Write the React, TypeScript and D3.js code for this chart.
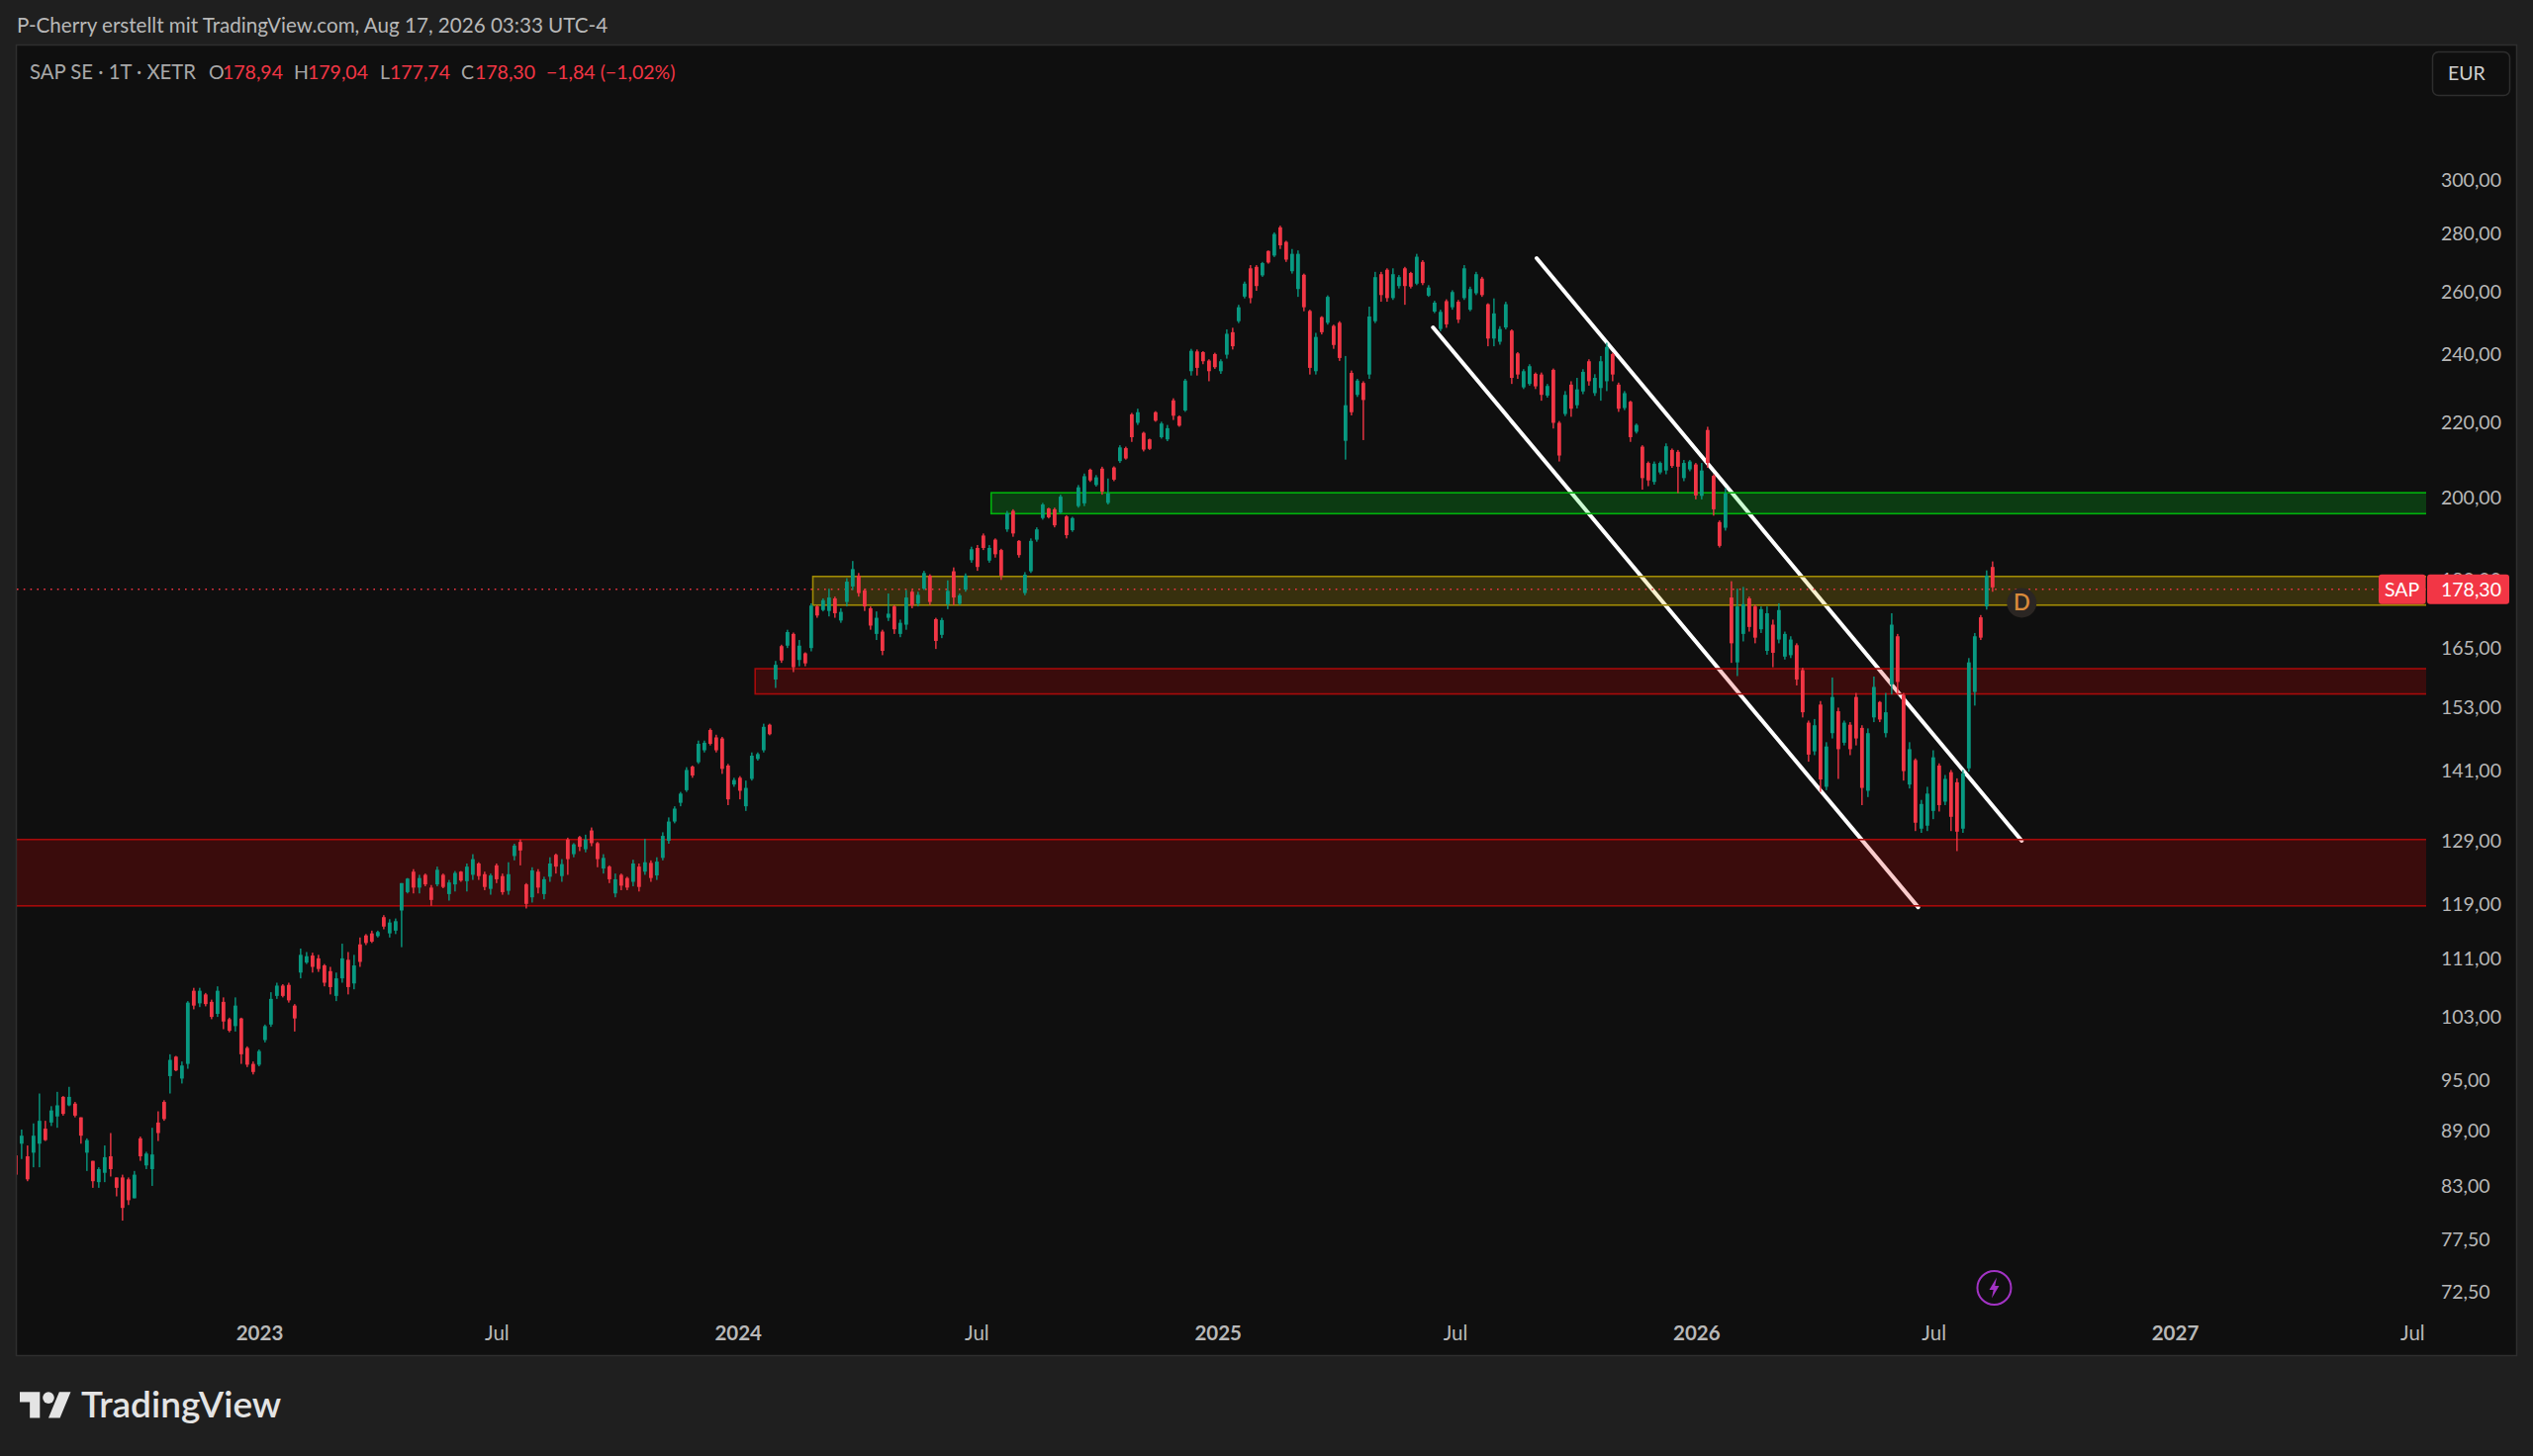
import { useEffect, useRef } from "react";
import * as d3 from "d3";

// one candle per ~4.5 calendar days
const firstBar = Date.UTC(2022, 5, 30);
const barStepHours = 108.67;

const opens = [
  86.3,87.6,86.2,86.6,87.6,89.3,90,90.7,93,92,
  92.2,90.6,86.6,85.7,83.4,84.4,86.2,83.9,83.9,83.7,
  81.7,88.2,85.2,84.8,90,92.4,95.5,97.9,95.2,97,
  106.5,104.8,106,105,103.4,105,102.7,101.8,102.8,99,
  97,96.9,100,102,105.8,107.2,107.3,104.5,109,110.4,
  111.4,111,110,109.2,105.8,108.2,110.8,107.5,113,114.3,
  114.6,114.2,117,114.6,115,118,120.8,124,121.5,123.5,
  121.5,122,123.5,120.5,122,124,122.5,123.5,125.3,123.6,
  121.3,125,123.3,121,126.5,128.8,122,120,124,120.5,
  123.2,126.7,123.3,129.2,126.8,129.6,127.6,130.7,128.6,124.5,
  124.8,120.6,123.5,123,122.4,124.8,124,125.4,123.4,126.2,
  129,132.2,135.4,137.6,141.8,142.6,144.8,148.6,147.2,147,
  142,138.6,139.8,134.8,139.6,143.2,144.8,149.6,158.5,165.4,
  165.5,168,162.5,163.9,165,174,173.2,173,175.8,170.9,
  175,178.5,181,177.6,173.6,168,168.5,171.5,174,168,
  170,177.3,174.6,178,181,171.2,167.8,174.5,182,174.6,
  177.8,184.6,187.5,190.5,184.5,189.5,187,192,196.6,189.2,
  177,182,189.5,194.8,197.2,197,196.2,195.2,191.8,197.8,
  198.5,207.2,203.2,207.5,198.6,207.8,209.5,213,222.4,220,
  217.2,215.4,223,216,215.4,226.4,221.8,223.5,235,241,
  240.8,238.2,240.2,235,240,247,250.5,258.5,268,268.5,
  265.6,274,272.4,282.4,277.2,267,261,265.8,253.8,235,
  251.8,250,249,250,215,234.5,228,231.5,234,250.5,
  266,267.5,258,262,268,266.4,262.8,270.2,258.8,253.6,
  248,257,255,256.8,258,254.2,259.6,264.5,256,245,
  244,248.5,247.5,240.4,230.2,231.2,234.2,234,227.8,235.4,
  220,222.5,231,225,229,238,228.5,230,232,240.2,
  231,224.2,226,217.5,213.4,209,204,206.5,207,212.5,
  212,205,207.3,208.6,200.4,218,205.6,193.8,192.4,176,
  162,168,175.8,174,169,164.4,170,166.8,163.2,163.5,
  165.6,160.4,150,144.6,153.5,138.2,148,152.2,146.2,149.6,
  155,149,137.5,151,154,148,157.5,167.5,155.4,138.6,
  143,131,131.5,134,142,135.6,140.8,139,131,141.5,
  156,171.6,174,183,
];

const highs = [
  86.5,89.2,87.4,89.9,93.4,90.2,91.9,93.6,93.1,94.2,
  92.4,90.6,88.2,85.7,85,87.4,88.8,83.9,84.2,83.9,
  84.6,88.4,86.7,89.4,91.3,92.6,98.2,98,97.3,105.1,
  106.9,106.9,106.2,105.3,107.1,105.6,102.9,105.6,102.9,99.2,
  97.3,98.8,102,106.3,107.6,107.4,107.6,104.7,112.4,111.9,
  111.8,111.5,110.2,109.8,109,113.1,111.9,111.5,114,114.5,
  115,115,117.3,116.7,116.8,122.2,123,124.4,123.5,123.7,
  121.9,124.8,123.7,122.7,124.1,124.1,125.3,126.8,125.5,124,
  123.7,125.3,123.7,125.5,128.5,129.2,122.2,124.7,124.4,123.2,
  126.3,126.9,126,129.5,128.6,129.8,130,131.2,128.8,126.8,
  125,123.7,123.7,123.2,125.9,125.3,129.3,125.8,126.3,130.4,
  132.9,134.8,137.3,141.7,142,146.6,146.6,148.9,147.7,147.3,
  142.3,139.8,140.1,139.3,144.4,144.4,149.8,149.8,162.3,165.7,
  168.9,168.3,166.7,164.1,174.7,174.3,175.8,178,176.2,173.6,
  180.4,184.4,181.6,178,174,172.9,168.9,176.9,174.3,171.1,
  177.7,177.7,177.3,182.1,181.3,171.5,171.5,179.9,182.9,176.9,
  181.5,187.8,188.2,191,188.2,189.8,187.3,196.6,197,189.4,
  181.8,189.8,192.5,198.6,197.4,197.4,200.7,195.5,195.1,203.2,
  206.2,207.5,205.8,208,204.9,208.1,213.8,213.4,222.8,224,
  217.5,215.6,223.3,220.3,219.4,227,222.1,232.7,241.8,241.6,
  241.1,238.6,240.6,238.6,247.9,248.4,255.8,263.5,269.1,269.1,
  270.2,274.2,280.6,283,277.6,274.7,274.2,266.2,254.2,246.8,
  252.1,258.9,249.4,250.5,239.6,235.2,232.7,232,255.2,266.8,
  266.8,268,268,265.7,268.5,266.8,273,270.8,262.3,257.1,
  254.2,257.6,260.6,257.4,269.1,261.8,266.8,265.1,256.3,257.9,
  248.9,256.8,247.9,240.8,235.6,237.1,234.6,234.6,231.2,235.8,
  220.5,229.1,232,233,235.6,238.6,234.1,239.6,243.7,240.6,
  231.6,229.1,226.3,219.8,213.8,209.4,209.4,209.4,214.3,212.9,
  212.5,209.8,209.8,209,209,218.9,206,194.2,202.4,179.7,
  178,178.4,176.2,174.4,174,174,171.1,174.7,168.5,167.5,
  166,160.9,150.4,150.7,154.2,146.3,158.9,152.9,150.4,150.1,
  155.8,149.5,148.9,159.1,154.2,155.8,172.5,168,155.8,146.3,
  143.3,135.9,138.2,144.8,142.4,140.3,141.2,139.7,141.2,162.9,
  168.2,172.1,182.2,184.3,
];

const lows = [
  84,85.9,83.5,85,85,87.9,89.6,89.4,90.8,91.9,
  90.6,87.6,84.6,82.8,82.8,83.4,84,81.9,79.4,81,
  81.7,85.7,84.8,83,87.9,90.2,93.4,96.1,94.6,96.4,
  104,104.3,104.4,102.7,103,101.4,101,101.1,97,96.6,
  95.7,96.7,99.7,101.7,105.4,105.6,104.9,101.1,108.2,110.2,
  109,109.1,107.1,106,105.1,107.6,106,106.7,109.8,112.9,
  113.2,114,115.2,114,114.5,112.6,120.6,120.6,120.6,121.7,
  118.7,121.7,121.4,119.5,120.9,122.4,120.9,122.7,122.7,121.1,
  120.4,122.2,120.4,120.4,125.8,125,118.3,119.2,120.6,119.7,
  122.4,123.7,122.4,123.5,126.3,127.3,127.1,128.1,124.7,123.7,
  122.2,120,121.1,121.1,121.7,120.9,123.5,122.4,122.7,125.8,
  128.5,131.9,134.8,137.3,139.8,142.3,144.4,145.7,144.4,140.5,
  135,138.2,136,134,139.3,142.9,144.4,147.6,156.8,161.9,
  165,160,161.2,161.2,164.3,171.5,172.9,171.8,171.5,170.4,
  174,177.7,176.2,173,168.9,166.7,163.5,170.8,168,167.3,
  168.9,173.6,174,177.7,174.3,164.8,167.1,173.4,174.3,174.3,
  177.3,184,182.1,187,184,185.2,180,191.4,190.2,185.2,
  176.5,181.6,189,194.4,194.7,192.5,195.9,189.8,191.4,197.4,
  197.8,204,202.8,200.7,198.2,204.2,209,209.9,214.7,219.4,
  212.1,212.5,220.3,215.6,214.9,220.8,218.9,223.1,233.7,233.7,
  237.1,232,235.7,234.2,238.8,241.6,249.9,257.9,256.3,260.4,
  265.1,269.6,271.9,274.7,270.2,266.2,258.4,253.7,234,234,
  246.3,249.4,241.8,238.1,209.9,222.1,227.4,215.2,232.7,249.9,
  256.8,256.8,257.4,261.2,255.8,261.2,262.3,262.3,258.4,253.1,
  247.3,248.4,254.2,249.9,257.4,253.7,259,258.4,242.6,242.6,
  243.1,247.9,231.2,232.7,229.7,230.7,229.7,226.3,227.2,218.4,
  209.4,221.9,221.7,224.1,228.2,230.7,227.7,226.3,229.1,232,
  223.1,223.6,214.7,217,202,202.9,203.3,206,206,207.7,
  201.1,204.2,206.8,199.5,199.5,207.7,195.4,187.6,191.7,161.9,
  159.2,166.4,168.5,166,168.2,163.6,161,166,162.6,162.9,
  157.3,151,142.7,143.9,137.3,137.6,147,139.6,145.7,143.9,
  145.7,135,136.4,150.1,150.1,147.2,155.5,155.5,139.3,137.9,
  130.6,130.3,130.6,132.6,133.9,135,130.6,127.3,130.3,140.9,
  153.3,166.7,173.3,177.3,
];

const closes = [
  84.2,88.5,83.7,88.5,90.2,88,91.4,92,91,93,
  90.8,88.5,88,83.5,84.8,86.1,84.8,82.8,80.7,81.5,
  84.2,86.2,86.5,86.4,88.8,90.4,97.5,96.2,96.8,104.9,
  104.5,106.5,104.7,103,106.5,102.4,101.2,104.5,98.2,96.9,
  96,98.6,101.8,105.4,107.2,105.8,105.2,102.8,111.5,111.3,
  109.8,109.5,107.6,107,108.2,111,107,110,110.5,113.2,
  113.4,114.8,115.6,116.2,116.4,122.2,122.9,121.5,123,122,
  119.6,124.3,121.6,122.3,123.8,122.6,124.8,126,123.3,121.6,
  123.4,122.8,120.8,123.6,128.2,127.4,119,124.2,121.5,122.8,
  125.3,124.8,125.2,126,128.4,128,129.2,128.6,126,126.2,
  122.8,122.8,121.8,121.5,125.3,121.6,125.5,123,125.6,129.8,
  132.2,134.4,137,141.2,140.2,146,146.2,146,144.8,141.4,
  136,139.4,137.5,138,143.8,144.1,149.2,147.8,161.5,162.4,
  168.4,161,165.5,161.8,174.2,172,175.4,176,172.5,172.8,
  179.6,182.5,177,174,169.8,171.5,164.4,172.4,169,170.4,
  176,174.2,176.6,181.6,175,166.5,171,177.5,176,176.5,
  181,187.2,183,187.5,187.5,186,181,196,191,185.8,
  181.2,189.2,192,198.2,195,193,200.2,190.6,194.8,202.6,
  205.5,204.4,205.2,201.5,201,204.6,213.2,210.2,216,223,
  212.6,212.8,220.6,219.8,218.5,222,219.2,232.2,241.2,236,
  238,235,236.2,238,246.5,242.6,255,262.8,258,262,
  269.8,270,280,276,271,273,273,255,236,245.5,
  247,258.4,243,239,225,223,232.2,226.5,252,265,
  259,258,266,265,262,261.8,272,263,261.5,256.5,
  253.5,249.5,260,251,268,261,266,259,245,253,
  248,256,233,234,235,236.5,230.5,228,230.6,220,
  211,228,224,229.6,234.8,232,233,238,242.4,234,
  224,228.5,216,219.4,205,204.4,208.8,209,213.5,208.2,
  208,209,209.4,200.5,207,209,197,188,201,166,
  174,174.5,169.5,167.2,173.4,172.5,164,173.2,168,166.8,
  158.5,152,144,149.5,139.5,145.5,155,145,150,145,
  147,138,148,157,150.6,152,170,158,141,145,
  132,135.2,137,143.5,135,139.6,133,130.5,140.6,162,
  167.5,167.2,181,178.3,
];

const priceTicks = [300, 280, 260, 240, 220, 200, 180, 165, 153, 141, 129, 119, 111, 103, 95, 89, 83, 77.5, 72.5];
const timeTicks = ["2023", "Jul", "2024", "Jul", "2025", "Jul", "2026", "Jul", "2027", "Jul"];
const timeTickDates = [
  Date.UTC(2023, 0, 1), Date.UTC(2023, 6, 1), Date.UTC(2024, 0, 1), Date.UTC(2024, 6, 1),
  Date.UTC(2025, 0, 1), Date.UTC(2025, 6, 1), Date.UTC(2026, 0, 1), Date.UTC(2026, 6, 1),
  Date.UTC(2027, 0, 1), Date.UTC(2027, 6, 1),
];

// zones: start date, top price, bottom price
const zoneNames = ["support", "flip", "demand", "base"];
const zoneStarts = [Date.UTC(2024, 6, 13), Date.UTC(2024, 1, 28), Date.UTC(2024, 0, 15), Date.UTC(2022, 5, 30)];
const zoneTops = [201.2, 180.8, 160.7, 129.2];
const zoneBottoms = [195.9, 174.3, 155.6, 118.7];
const zoneStrokes = ["#00b30c", "#a08b05", "#a80a0a", "#a80a0a"];
const zoneFills = ["rgba(0,235,30,0.2)", "rgba(215,180,10,0.2)", "rgba(230,0,0,0.2)", "rgba(230,0,0,0.2)"];

// channel lines: start date, start price, end date, end price
const channelStartDates = [Date.UTC(2025, 8, 2), Date.UTC(2025, 5, 15)];
const channelEndDates = [Date.UTC(2026, 8, 7), Date.UTC(2026, 5, 20)];
const channelStartPrices = [271.5, 248.5];
const channelEndPrices = [129, 118.5];

const lastPrice = 178.3;
const dividendDate = Date.UTC(2026, 8, 7);
const dividendPrice = 174.8;
const earningsDate = Date.UTC(2026, 7, 17);
const legendItems = [
  { x: 211, text: "O", red: false }, { x: 225, text: "178,94", red: true },
  { x: 297, text: "H", red: false }, { x: 311, text: "179,04", red: true },
  { x: 384, text: "L", red: false }, { x: 394, text: "177,74", red: true },
  { x: 466, text: "C", red: false }, { x: 480, text: "178,30", red: true },
  { x: 552, text: "\u22121,84 (\u22121,02%)", red: true },
];

const upColor = "#089981";
const downColor = "#f23645";
const font = "Lato, 'Noto Sans', sans-serif";
const W = 2560;
const H = 1472;
const pane = { left: 17, right: 2452, top: 46, frameRight: 2543, bottom: 1370 };

export default function App() {
  const svgRef = useRef<SVGSVGElement>(null);

  useEffect(() => {
    const svg = d3.select(svgRef.current);
    svg.selectAll(".chart").remove();
    const root = svg.append("g").attr("class", "chart");

    const x = d3
      .scaleUtc()
      .domain([Date.UTC(2023, 0, 1), Date.UTC(2027, 0, 1)])
      .range([261, 2197]);
    const y = d3.scaleLog().domain([72.5, 300]).range([1306, 182]);

    const defs = root.append("defs");
    defs
      .append("clipPath")
      .attr("id", "paneClip")
      .append("rect")
      .attr("x", pane.left)
      .attr("y", pane.top)
      .attr("width", pane.right - pane.left)
      .attr("height", pane.bottom - pane.top);

    const plot = root.append("g").attr("clip-path", "url(#paneClip)");

    // channel
    plot
      .selectAll("line.channel")
      .data(channelStartDates)
      .enter()
      .append("line")
      .attr("class", "channel")
      .attr("x1", (d) => x(d))
      .attr("y1", (_, i) => y(channelStartPrices[i]))
      .attr("x2", (_, i) => x(channelEndDates[i]))
      .attr("y2", (_, i) => y(channelEndPrices[i]))
      .attr("stroke", "#ffffff")
      .attr("stroke-width", 4)
      .attr("stroke-linecap", "round");

    // zones, they run to the right edge of the pane
    plot
      .selectAll("rect.zone")
      .data(zoneNames)
      .enter()
      .append("rect")
      .attr("class", "zone")
      .attr("x", (_, i) => x(zoneStarts[i]))
      .attr("y", (_, i) => y(zoneTops[i]))
      .attr("width", (_, i) => pane.right + 5 - x(zoneStarts[i]))
      .attr("height", (_, i) => y(zoneBottoms[i]) - y(zoneTops[i]))
      .attr("fill", (_, i) => zoneFills[i])
      .attr("stroke", (_, i) => zoneStrokes[i])
      .attr("stroke-width", 1.6);

    // last price line
    const labelY = y(lastPrice) + 2;
    plot
      .append("line")
      .attr("x1", pane.left)
      .attr("x2", pane.right)
      .attr("y1", labelY)
      .attr("y2", labelY)
      .attr("stroke", downColor)
      .attr("stroke-width", 1.4)
      .attr("stroke-dasharray", "1.6 5.2");

    // candles
    const barDate = (i: number) => d3.utcHour.offset(new Date(firstBar), Math.round(i * barStepHours));
    const candles = plot
      .selectAll("g.candle")
      .data(closes)
      .enter()
      .append("g")
      .attr("class", "candle")
      .attr("fill", (c, i) => (c >= opens[i] ? upColor : downColor))
      .attr("stroke", "none");
    candles
      .append("rect")
      .attr("x", (_, i) => x(barDate(i)) - 0.7)
      .attr("width", 1.4)
      .attr("y", (_, i) => y(highs[i]))
      .attr("height", (_, i) => y(lows[i]) - y(highs[i]));
    candles
      .append("rect")
      .attr("x", (_, i) => x(barDate(i)) - 1.9)
      .attr("width", 3.8)
      .attr("y", (c, i) => y(Math.max(c, opens[i])))
      .attr("height", (c, i) => Math.max(1, Math.abs(y(c) - y(opens[i]))));

    // dividend marker
    const dividend = root
      .append("g")
      .attr("transform", `translate(${x(dividendDate)},${y(dividendPrice)})`);
    dividend.append("circle").attr("r", 15).attr("fill", "#2b2623");
    dividend
      .append("text")
      .attr("dy", "0.36em")
      .attr("text-anchor", "middle")
      .attr("fill", "#d98a3a")
      .attr("font-family", font)
      .attr("font-size", 22)
      .attr("font-weight", 600)
      .text("D");

    // earnings flash marker at the bottom of the pane
    const flash = root.append("g").attr("transform", `translate(${x(earningsDate)},1302)`);
    flash.append("circle").attr("r", 17).attr("fill", "none").attr("stroke", "#a233c4").attr("stroke-width", 2);
    flash.append("path").attr("d", "M2.5,-10.5 L-5,2 L-0.8,2 L-2.5,10.5 L5,-2 L0.8,-2 Z").attr("fill", "#a233c4");

    // price axis
    const priceFormat = d3.formatLocale({ decimal: ",", thousands: ".", grouping: [3], currency: ["", ""] }).format(".2f");
    const priceAxis = root
      .append("g")
      .attr("transform", "translate(2467,0)")
      .call(d3.axisRight(y).tickValues(priceTicks).tickSize(0).tickPadding(0).tickFormat((d) => priceFormat(+d)));
    priceAxis.select(".domain").remove();
    priceAxis.selectAll("text").attr("fill", "#b8b8b8").attr("font-size", 19.5).attr("font-family", font);

    // time axis
    const timeAxis = root
      .append("g")
      .attr("clip-path", "url(#paneClip)")
      .append("g")
      .attr("transform", "translate(1,1340)")
      .call(
        d3
          .axisBottom(x)
          .tickValues(timeTickDates.map((d) => new Date(d)))
          .tickSize(0)
          .tickPadding(0)
          .tickFormat((_, i) => timeTicks[i]),
      );
    timeAxis.select(".domain").remove();
    timeAxis
      .selectAll("text")
      .attr("fill", "#b8b8b8")
      .attr("font-size", 20.5)
      .attr("font-family", font)
      .attr("font-weight", (_, i) => (timeTicks[i] === "Jul" ? 400 : 700));

    // labels on top of the axis
    root.append("rect").attr("x", 2404).attr("y", labelY - 15).attr("width", 47.5).attr("height", 30).attr("rx", 3).attr("fill", downColor);
    root.append("rect").attr("x", 2453).attr("y", labelY - 15).attr("width", 83).attr("height", 30).attr("rx", 3).attr("fill", downColor);
    root.append("text").attr("x", 2427.5).attr("y", labelY).attr("dy", "0.35em").attr("text-anchor", "middle").attr("fill", "#fff").attr("font-family", font).attr("font-size", 19.5).text("SAP");
    root.append("text").attr("x", 2467).attr("y", labelY).attr("dy", "0.35em").attr("fill", "#fff").attr("font-family", font).attr("font-size", 19.5).text(priceFormat(lastPrice));
  }, []);

  return (
    <svg
      ref={svgRef}
      width={W}
      height={H}
      style={{ position: "absolute", left: 0, top: 0, display: "block" }}
    >
      <rect width={W} height={H} fill="#1f1f1f" />
      <rect
        x={pane.left - 0.5}
        y={pane.top - 0.5}
        width={pane.frameRight - pane.left + 1}
        height={pane.bottom - pane.top + 1}
        fill="#0f0f0f"
        stroke="#2e2e2e"
        strokeWidth={1.5}
      />
      <text x={17} y={33} fill="#b8b8b8" fontFamily={font} fontSize={20.6}>
        P-Cherry erstellt mit TradingView.com, Aug 17, 2026 03:33 UTC-4
      </text>
      <text x={30} y={80} fill="#a8a8a8" fontFamily={font} fontSize={20.3}>
        SAP SE · 1T · XETR
      </text>
      {legendItems.map((d) => (
        <text key={d.x} x={d.x} y={80} fill={d.red ? downColor : "#a8a8a8"} fontFamily={font} fontSize={19.5}>
          {d.text}
        </text>
      ))}
      <rect x={2458.5} y={52.5} width={78} height={44} rx={6} fill="#0f0f0f" stroke="#2e2e2e" strokeWidth={1.5} />
      <text x={2474} y={81} fill="#d0d0d0" fontFamily={font} fontSize={19.5}>
        EUR
      </text>
      <g transform="translate(20,1401.5) scale(1.45)" fill="#e4e4e4">
        <path d="M14 22H7V11H0V4h14v18zM28 22h-8l7.5-18h8L28 22z" />
        <circle cx={20} cy={8} r={4} />
      </g>
      <text x={82} y={1433} fill="#e4e4e4" fontFamily={font} fontSize={37} fontWeight={600}>
        TradingView
      </text>
    </svg>
  );
}
